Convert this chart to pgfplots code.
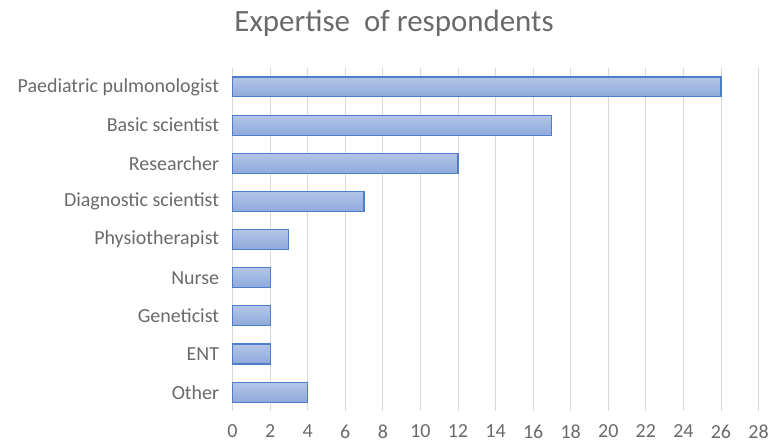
\documentclass[border=0pt]{standalone}
\usepackage{pgfplots}
\pgfplotsset{compat=1.18}
\usepackage{fontspec}
\setmainfont{Carlito}
\definecolor{txt}{HTML}{6A6A6A}
\definecolor{gridc}{HTML}{D9D9D9}
\definecolor{edge}{HTML}{4F7EC8}
\definecolor{barT}{HTML}{B4C6E7}
\definecolor{barB}{HTML}{8EA9DB}
\pgfplotsset{mybar/.style={draw=edge, line width=1.1pt, top color=barT, bottom color=barB}}
\begin{document}
\begin{tikzpicture}
\begin{axis}[
  scale only axis,
  width=527pt, height=344pt,
  xbar,
  bar width=20pt,
  bar shift=0pt,
  xmin=0, xmax=28,
  ymin=-0.5, ymax=8.5,
  xtick={0,2,...,28},
  ytick={0,...,8},
  yticklabels={Other,ENT,Geneticist,Nurse,Physiotherapist,Diagnostic scientist,Researcher,Basic scientist,Paediatric pulmonologist},
  axis line style={draw=none},
  major tick length=0pt,
  xmajorgrids=true,
  ymajorgrids=false,
  major grid style={draw=gridc, line width=0.9pt},
  tick label style={font=\fontsize{20}{22}\selectfont, text=txt},
  xticklabel style={yshift=-10pt},
  yticklabel style={xshift=-10pt},
  /pgf/number format/assume math mode=true,
  clip=false,
]
\useasboundingbox (rel axis cs:-0.4421,-0.1017) rectangle (rel axis cs:1.0228,1.1977);
\addplot[mybar] coordinates {(4,0)};
\addplot[mybar] coordinates {(2,1)};
\addplot[mybar] coordinates {(2,2)};
\addplot[mybar] coordinates {(2,3)};
\addplot[mybar] coordinates {(3,4)};
\addplot[mybar] coordinates {(7,5)};
\addplot[mybar] coordinates {(12,6)};
\addplot[mybar] coordinates {(17,7)};
\addplot[mybar] coordinates {(26,8)};
\node[font=\fontsize{31}{34}\selectfont, text=txt] at (rel axis cs:0.307,1.13) {Expertise\ \ of respondents};
\end{axis}
\end{tikzpicture}
\end{document}
